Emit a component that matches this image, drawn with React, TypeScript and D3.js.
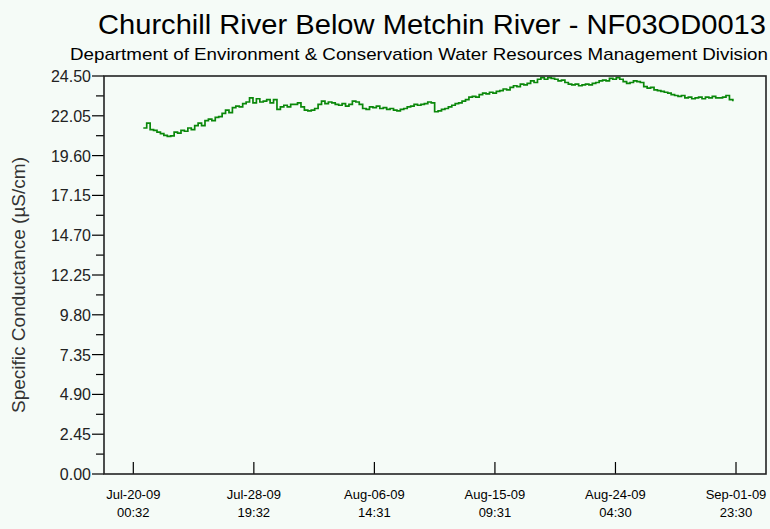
import React from "react";
import * as d3 from "d3";

const title = "Churchill River Below Metchin River - NF03OD0013";
const subtitle = "Department of Environment & Conservation Water Resources Management Division";
const yTitle = "Specific Conductance (µS/cm)";

// series: start time, step (hours)
const seriesStart = "2009-07-20T18:00:00Z";
const seriesStepHours = 6;
const seriesValues = [
  21.3, 21.6, 21.2, 21.15,
  21.05, 20.95, 20.85, 20.78,
  20.82, 21.05, 20.98, 21.15,
  21.1, 21.3, 21.2, 21.45,
  21.6, 21.45, 21.75, 21.85,
  21.75, 21.95, 22.0, 22.2,
  22.4, 22.25, 22.55, 22.65,
  22.6, 22.8, 22.9, 23.15,
  22.85, 23.1, 22.9, 22.95,
  23.05, 22.85, 23.05, 22.45,
  22.6, 22.7, 22.6, 22.75,
  22.75, 22.85, 22.6, 22.4,
  22.35, 22.4, 22.5, 22.75,
  22.95, 22.8, 22.9, 22.85,
  22.75, 22.7, 22.8, 22.65,
  22.75, 22.95, 22.9, 22.75,
  22.5, 22.45, 22.6, 22.55,
  22.65, 22.5, 22.55, 22.45,
  22.5, 22.4, 22.35, 22.45,
  22.5, 22.6, 22.65, 22.75,
  22.7, 22.75, 22.8, 22.9,
  22.85, 22.3, 22.35, 22.45,
  22.5, 22.6, 22.7, 22.8,
  22.85, 22.95, 23.05, 23.2,
  23.25, 23.2, 23.35, 23.45,
  23.4, 23.5, 23.45, 23.55,
  23.6, 23.7, 23.65, 23.8,
  23.9, 23.85, 24.0, 23.95,
  24.05, 24.2, 24.1, 24.3,
  24.4, 24.3, 24.4, 24.35,
  24.3, 24.2, 24.25, 24.1,
  24.0, 23.95, 24.0, 23.9,
  23.95, 24.0, 23.95, 24.05,
  24.1, 24.2, 24.25, 24.2,
  24.35, 24.3, 24.4, 24.3,
  24.15, 24.05, 24.1, 24.2,
  24.15, 24.1, 23.85, 23.75,
  23.8, 23.65, 23.6, 23.55,
  23.5, 23.45, 23.35, 23.3,
  23.25, 23.3, 23.15, 23.2,
  23.1, 23.15, 23.2, 23.1,
  23.2, 23.15, 23.25, 23.15,
  23.15, 23.2, 23.3, 23.05,
  22.95,
];

const xDomainDates = ["2009-07-17T21:14:00Z", "2009-09-04T04:00:00Z"];
const xTickDates = [
  "2009-07-20T00:32:00Z",
  "2009-07-28T19:32:00Z",
  "2009-08-06T14:31:00Z",
  "2009-08-15T09:31:00Z",
  "2009-08-24T04:30:00Z",
  "2009-09-01T23:30:00Z",
];
const yMax = 24.5;
const yStep = 2.45;

const W = 770;
const H = 529;
const M = { left: 104, right: 766, top: 76, bottom: 474 };
const BG = "#f5fbf7";
const LINE = "#0a880a";

export default function App() {
  const x = d3
    .scaleUtc()
    .domain(xDomainDates.map((d) => new Date(d)))
    .range([M.left, M.right]);
  const y = d3.scaleLinear().domain([0, yMax]).range([M.bottom, M.top]);

  const t0 = new Date(seriesStart).getTime();
  const data = seriesValues.map((v, i) => ({
    t: new Date(t0 + i * seriesStepHours * 3600 * 1000),
    v,
  }));
  const line = d3
    .line<{ t: Date; v: number }>()
    .x((d) => x(d.t))
    .y((d) => y(d.v))
    .curve(d3.curveStepAfter);

  const majorTicks = d3.range(0, 11).map((i) => i * yStep);
  const minorTicks = d3.range(0, 10).map((i) => i * yStep + yStep / 2);
  const fmtDate = d3.utcFormat("%b-%d-%y");
  const fmtTime = d3.utcFormat("%H:%M");
  const font = "'Liberation Sans', Arial, sans-serif";

  return (
    <svg
      width={W}
      height={H}
      style={{ position: "absolute", left: 0, top: 0, background: BG }}
      fontFamily={font}
    >
      <rect x={0} y={0} width={W} height={H} fill={BG} />
      <text x={98} y={34} fontSize={28} fill="#000" textLength={668} lengthAdjust="spacingAndGlyphs">
        {title}
      </text>
      <text x={70} y={60} fontSize={17} fill="#000" textLength={698} lengthAdjust="spacingAndGlyphs">
        {subtitle}
      </text>
      <text
        transform={`translate(25,285) rotate(-90)`}
        textAnchor="middle"
        fontSize={19}
        fill="#333"
      >
        {yTitle}
      </text>

      {/* y ticks */}
      {majorTicks.map((v) => (
        <g key={"M" + v}>
          <line x1={M.left - 12} x2={M.left} y1={y(v)} y2={y(v)} stroke="#000" strokeWidth={1.2} />
          <text x={M.left - 13} y={y(v) + 6} textAnchor="end" fontSize={16} fill="#222">
            {v.toFixed(2)}
          </text>
        </g>
      ))}
      {minorTicks.map((v) => (
        <line key={"m" + v} x1={M.left - 8} x2={M.left} y1={y(v)} y2={y(v)} stroke="#000" strokeWidth={1.2} />
      ))}

      {/* x ticks */}
      {xTickDates.map((s) => {
        const d = new Date(s);
        const px = x(d);
        return (
          <g key={s}>
            <line x1={px} x2={px} y1={M.bottom} y2={M.bottom - 12} stroke="#000" strokeWidth={1.2} />
            <text x={px} y={499} textAnchor="middle" fontSize={13} fill="#000">
              {fmtDate(d)}
            </text>
            <text x={px} y={517} textAnchor="middle" fontSize={13} fill="#000">
              {fmtTime(d)}
            </text>
          </g>
        );
      })}

      <path d={line(data) || ""} fill="none" stroke={LINE} strokeWidth={1.7} />

      {/* frame */}
      <rect
        x={M.left}
        y={M.top}
        width={M.right - M.left}
        height={M.bottom - M.top}
        fill="none"
        stroke="#222"
        strokeWidth={1.6}
      />
    </svg>
  );
}
